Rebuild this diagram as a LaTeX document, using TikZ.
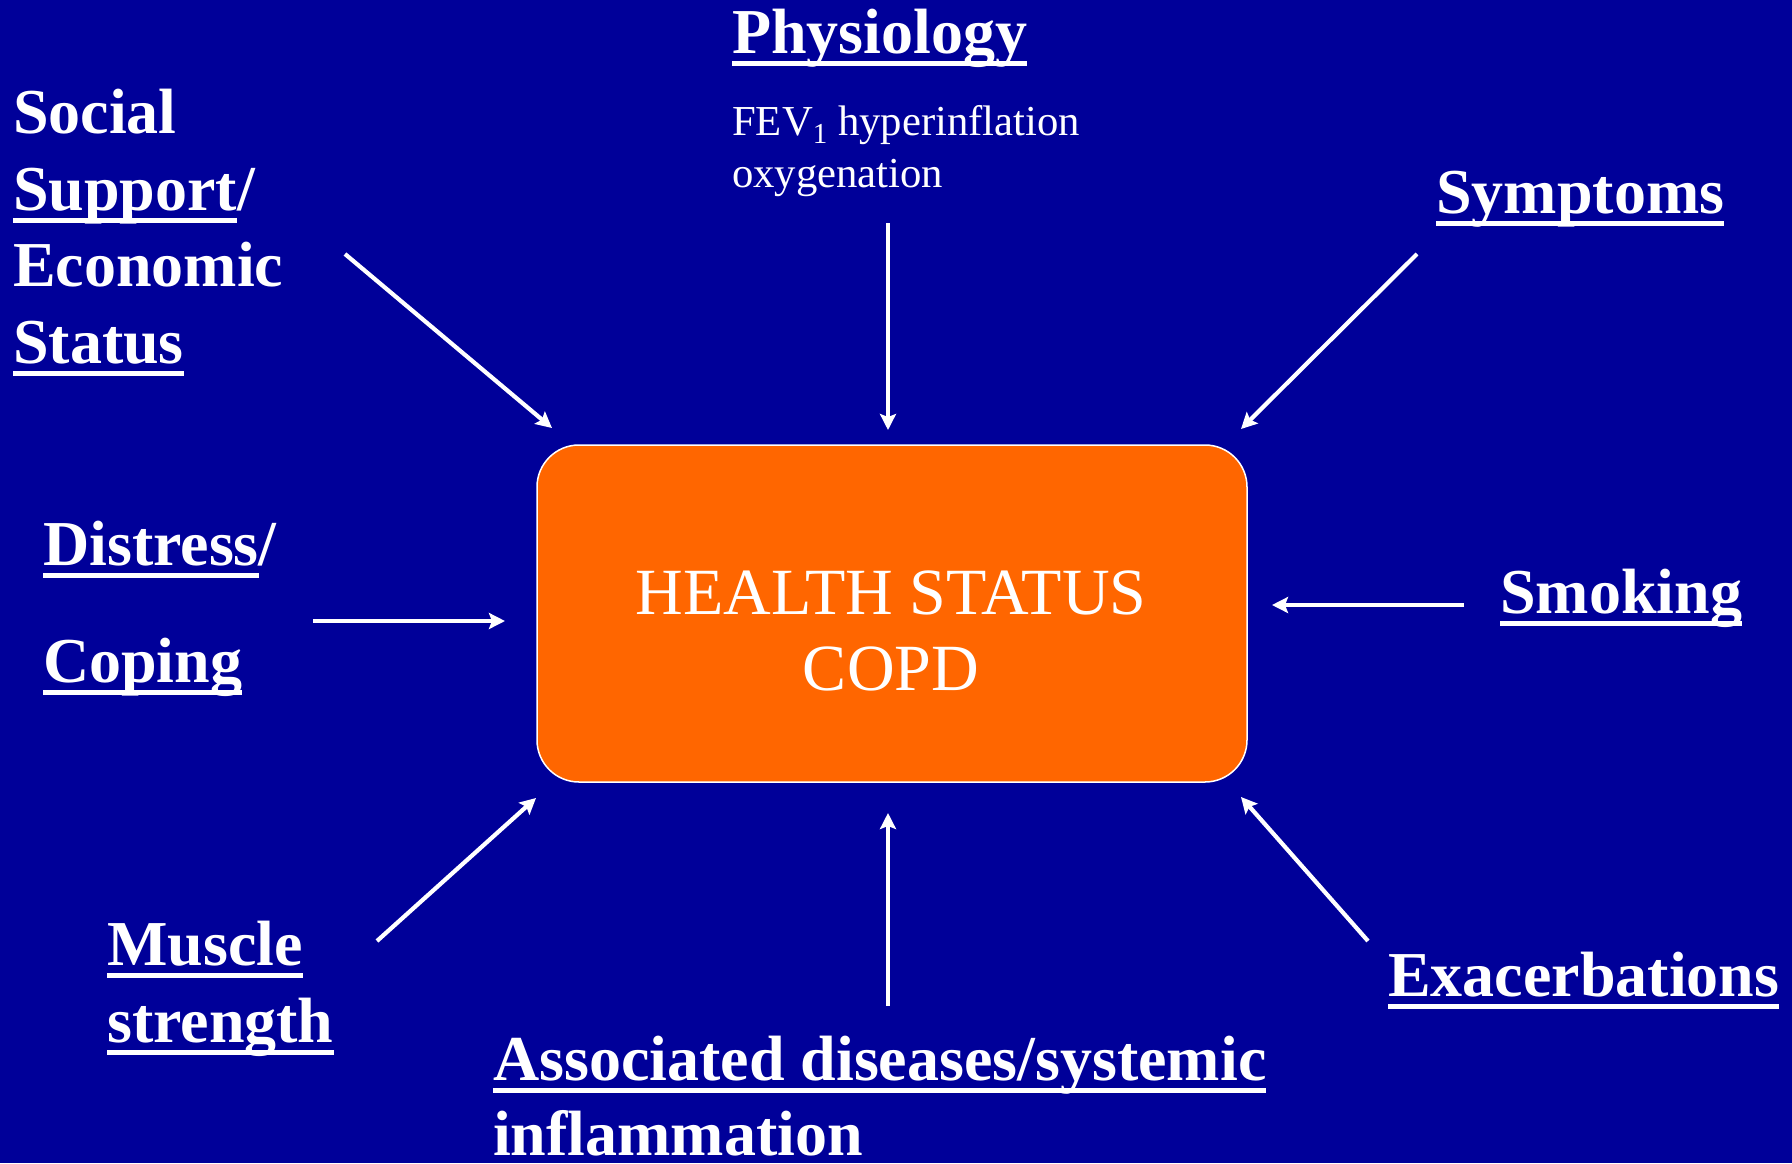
\documentclass[tikz,border=0pt]{standalone}
\usepackage{fontspec}
\setmainfont{Liberation Serif}
\usetikzlibrary{arrows.meta}

\definecolor{bgblue}{HTML}{000099}
\definecolor{boxorange}{HTML}{FF6600}

% underline at a fixed depth below the baseline, crossing descenders
\newcommand{\ulbar}[1]{\setbox0\hbox{#1}\rlap{\rule[-12.5pt]{\wd0}{5pt}}\box0}

\tikzset{
  lbl/.style={anchor=base west, inner sep=0pt, text=white,
    font=\fontsize{64}{77}\selectfont\bfseries},
  note/.style={anchor=base west, inner sep=0pt, text=white,
    font=\fontsize{42.7}{52}\selectfont},
  boxtxt/.style={anchor=base, inner sep=0pt, text=white,
    font=\fontsize{66}{78}\selectfont},
  infl/.style={draw=white, line width=4.2pt,
    -{Stealth[length=16pt, width=16pt, inset=3pt]}}
}

\begin{document}
\begin{tikzpicture}[x=1pt, y=-1pt]
  % page
  \fill[bgblue] (0,0) rectangle (1792,1163);
  \useasboundingbox (0,0) rectangle (1792,1163);

  % central box
  \node[draw=white, line width=1.5pt, fill=boxorange, rounded corners=42pt,
        minimum width=710pt, minimum height=337pt, inner sep=0pt]
        (box) at (892,613.5) {};
  \node[boxtxt] (hs1) at (891,614) {HEALTH STATUS};
  \node[boxtxt] (hs2) at (891,690) {COPD};

  % surrounding factors
  \node[lbl] (phys) at (732,53) {\ulbar{Physiology}};
  \node[note] (phys1) at (732,135) {FEV\raisebox{-8pt}{\fontsize{29}{29}\selectfont 1} hyperinflation};
  \node[note] (phys2) at (732,187) {oxygenation};

  \node[lbl] (soc1) at (13,133) {Social};
  \node[lbl] (soc2) at (13,210) {\ulbar{Support}/};
  \node[lbl] (soc3) at (13,286) {Economic};
  \node[lbl] (soc4) at (13,363) {\ulbar{Status}};

  \node[lbl] (sym) at (1436,213) {\ulbar{Symptoms}};

  \node[lbl] (dis1) at (43,565) {\ulbar{Distress}/};
  \node[lbl] (dis2) at (43,682) {\ulbar{Coping}};

  \node[lbl] (smk) at (1500,613) {\ulbar{Smoking}};

  \node[lbl] (mus1) at (107,965) {\ulbar{Muscle}};
  \node[lbl] (mus2) at (107,1042) {\ulbar{strength}};

  \node[lbl] (exa) at (1388,996) {\ulbar{Exacerbations}};

  \node[lbl] (asc1) at (493,1080) {\ulbar{Associated diseases/systemic}};
  \node[lbl] (asc2) at (493,1155) {inflammation};

  % arrow ends
  \coordinate (socA) at (345,254);  \coordinate (socB) at (552,428);
  \coordinate (phyA) at (888,223);  \coordinate (phyB) at (888,430);
  \coordinate (symA) at (1417,254); \coordinate (symB) at (1241,429);
  \coordinate (disA) at (313,621);  \coordinate (disB) at (505,621);
  \coordinate (smkA) at (1464,605); \coordinate (smkB) at (1272,605);
  \coordinate (musA) at (377,941);  \coordinate (musB) at (536,798);
  \coordinate (ascA) at (888,1006); \coordinate (ascB) at (888,813);
  \coordinate (exaA) at (1368,941); \coordinate (exaB) at (1241,797);

  % influences on health status
  \draw[infl] (socA) -- (socB);
  \draw[infl] (phyA) -- (phyB);
  \draw[infl] (symA) -- (symB);
  \draw[infl] (disA) -- (disB);
  \draw[infl] (smkA) -- (smkB);
  \draw[infl] (musA) -- (musB);
  \draw[infl] (ascA) -- (ascB);
  \draw[infl] (exaA) -- (exaB);
\end{tikzpicture}
\end{document}
